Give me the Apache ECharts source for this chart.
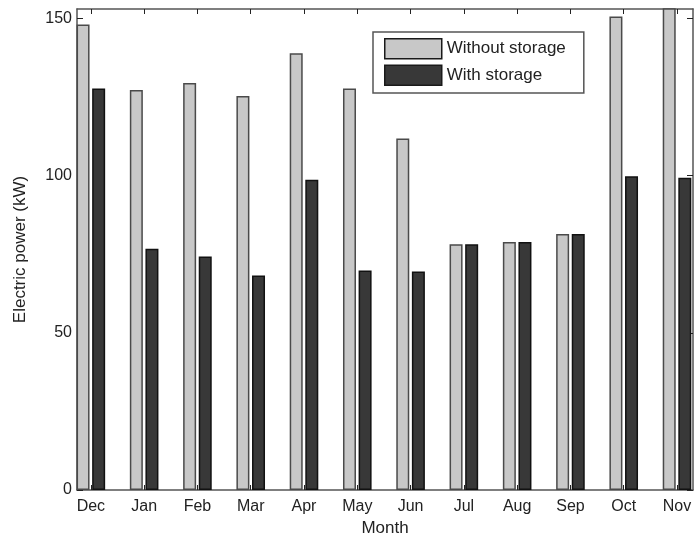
<!DOCTYPE html>
<html>
<head>
<meta charset="utf-8">
<script src="https://cdn.jsdelivr.net/npm/echarts@6/dist/echarts.min.js"></script>
<style>html,body{margin:0;padding:0;background:#fff;}#c{width:696px;height:537px;}</style>
</head>
<body>
<div id="c"></div>
<script>
const months = ['Dec','Jan','Feb','Mar','Apr','May','Jun','Jul','Aug','Sep','Oct','Nov'];
const withoutStorage = [148.1, 127.2, 129.5, 125.3, 138.9, 127.7, 111.8, 78.2, 78.9, 81.4, 150.6, 160];
const withStorage = [127.7, 76.7, 74.3, 68.2, 98.7, 69.8, 69.5, 78.2, 78.9, 81.4, 99.8, 99.3];
const yTicks = [0, 50, 100, 150];
const xPos = months.map((m, i) => i + 1);

const font = 'Arial, "Liberation Sans", sans-serif';
const chart = echarts.init(document.getElementById('c'));
chart.setOption({
  animation: false,
  backgroundColor: '#fff',
  grid: {left: 77, right: 3, top: 9, bottom: 47, containLabel: false, outerBoundsMode: 'none'},
  legend: {
    orient: 'vertical', left: 373, top: 32,
    padding: [6, 18, 7, 11], itemGap: 5, itemWidth: 57, itemHeight: 20,
    borderColor: '#555', borderWidth: 1.5, backgroundColor: '#fff',
    icon: 'rect',
    textStyle: {fontFamily: font, fontSize: 17, color: '#222'},
    itemStyle: {borderColor: '#1a1a1a', borderWidth: 1.5},
    data: ['Without storage', 'With storage']
  },
  xAxis: [{
    type: 'value', min: 0.74, max: 12.3,
    name: 'Month', nameLocation: 'middle', nameGap: 29,
    nameTextStyle: {fontFamily: font, fontSize: 17, color: '#222'},
    axisLine: {show: true, onZero: false, lineStyle: {color: '#555', width: 1.5}},
    axisTick: {show: true, inside: true, length: 5, customValues: xPos, lineStyle: {color: '#222'}},
    axisLabel: {customValues: xPos, formatter: v => months[Math.round(v) - 1], fontFamily: font, fontSize: 16, color: '#222', margin: 9},
    splitLine: {show: false}
  }, {
    type: 'value', min: 0.74, max: 12.3, position: 'top',
    axisLine: {show: true, onZero: false, lineStyle: {color: '#555', width: 1.5}},
    axisTick: {show: true, inside: true, length: 5, customValues: xPos, lineStyle: {color: '#222'}},
    axisLabel: {show: false},
    splitLine: {show: false}
  }],
  yAxis: [{
    type: 'value', min: 0, max: 153,
    name: 'Electric power (kW)', nameLocation: 'middle', nameGap: 48,
    nameTextStyle: {fontFamily: font, fontSize: 17, color: '#222'},
    axisLine: {show: true, lineStyle: {color: '#555', width: 1.5}},
    axisTick: {show: true, inside: true, length: 6, customValues: yTicks, lineStyle: {color: '#222'}},
    axisLabel: {customValues: yTicks, fontFamily: font, fontSize: 16, color: '#222', margin: 5},
    splitLine: {show: false}
  }, {
    type: 'value', min: 0, max: 153, position: 'right',
    axisLine: {show: true, lineStyle: {color: '#555', width: 1.5}},
    axisTick: {show: true, inside: true, length: 6, customValues: yTicks, lineStyle: {color: '#222'}},
    axisLabel: {show: false},
    splitLine: {show: false}
  }],
  series: [{
    name: 'Without storage', type: 'bar', barWidth: 13, barGap: '20%',
    data: withoutStorage.map((v, i) => [xPos[i], v]),
    itemStyle: {color: '#c8c8c8', borderColor: '#4a4a4a', borderWidth: 1.5}
  }, {
    name: 'With storage', type: 'bar', barWidth: 13, barGap: '20%',
    data: withStorage.map((v, i) => [xPos[i], v]),
    itemStyle: {color: '#383838', borderColor: '#111', borderWidth: 1.5}
  }]
});
</script>
</body>
</html>
